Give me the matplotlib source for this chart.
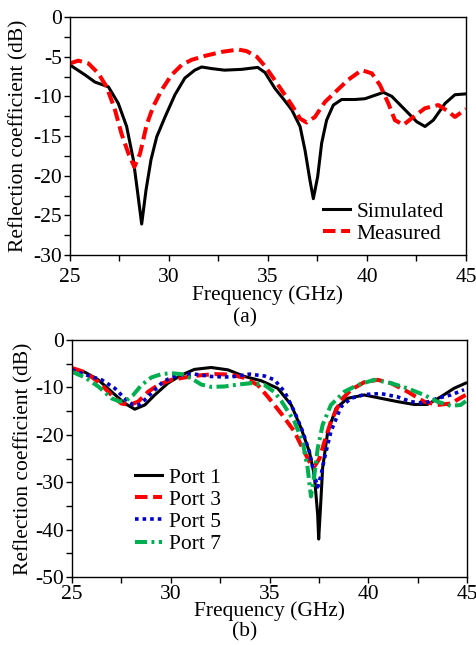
import numpy as np
import matplotlib
matplotlib.use('Agg')
import matplotlib.pyplot as plt
from matplotlib.ticker import MultipleLocator

plt.rcParams['font.family'] = 'Liberation Serif'
plt.rcParams['font.size'] = 15.5
plt.rcParams['axes.unicode_minus'] = False

# (a) simulated vs measured
fa_sim = [25, 25.76, 26.26, 26.94, 27.44, 27.86, 28.2, 28.42, 28.62, 28.84, 29.09, 29.38,
          29.8, 30.3, 30.8, 31.3, 31.65, 32.15, 32.8, 33.67, 34.48, 34.85, 35.35, 35.8,
          36.2, 36.62, 36.87, 37.12, 37.29, 37.51, 37.71, 37.96, 38.3, 38.72, 39.39,
          39.9, 40.83, 41.25, 41.92, 42.51, 42.93, 43.35, 43.94, 44.44, 44.95]
s_sim = [-6.05, -7.3, -8.2, -8.8, -10.9, -13.8, -18.0, -22.2, -26.1, -21.8, -18.0, -15.1,
         -12.6, -9.8, -7.7, -6.7, -6.3, -6.5, -6.7, -6.6, -6.35, -7.0, -9.0, -10.4,
         -11.7, -13.8, -16.8, -20.6, -22.9, -20.1, -15.9, -13.0, -11.1, -10.4, -10.4,
         -10.3, -9.5, -10.0, -11.7, -13.2, -13.8, -13.0, -10.9, -9.8, -9.7]

fa_meas = [25, 25.42, 25.93, 26.43, 26.85, 27.27, 27.6, 27.95, 28.25, 28.54, 28.87, 29.2,
           29.63, 30.13, 30.64, 31.14, 31.82, 32.66, 33.5, 33.92, 34.43, 34.85, 35.52,
           36.2, 36.62, 36.95, 37.37, 37.88, 38.38, 39.06, 39.73, 40.24, 40.66, 41.08,
           41.41, 41.84, 42.34, 42.93, 43.6, 44.1, 44.44, 45]
s_meas = [-5.85, -5.5, -5.85, -7.1, -8.8, -11.7, -14.7, -17.2, -18.9, -17.2, -13.6, -11.3,
          -9.2, -7.3, -6.05, -5.4, -4.9, -4.4, -4.1, -4.3, -5.0, -6.2, -8.6, -11.1,
          -12.8, -13.3, -12.6, -10.7, -9.5, -7.9, -6.7, -7.1, -8.6, -10.9, -13.0, -13.6,
          -12.6, -11.5, -11.1, -11.9, -12.6, -11.6]

# (b) ports
f_p1 = [25, 25.66, 26.33, 27, 27.68, 28.18, 28.69, 29.19, 29.86, 30.54, 31.2, 32.05, 32.9,
        33.74, 34.58, 35.42, 36.1, 36.6, 37.02, 37.27, 37.44, 37.49, 37.58, 37.69, 37.95,
        38.37, 38.96, 39.8, 40.64, 41.48, 42.32, 42.99, 43.67, 44.34, 44.93]
s_p1 = [-6.0, -6.8, -8.4, -10.9, -13.4, -14.6, -13.7, -11.6, -9.1, -7.4, -6.2, -5.8, -6.3,
        -7.7, -8.6, -10.2, -13.7, -18.6, -23.6, -28.5, -36.9, -42.0, -35.5, -27.0, -19.3,
        -14.4, -12.3, -11.6, -12.3, -13.0, -13.6, -13.6, -12.0, -10.2, -9.1]

f_p3 = [25, 25.66, 26.33, 27, 27.5, 27.93, 28.35, 28.86, 29.36, 30.03, 30.71, 31.38, 32.22,
        33.06, 33.74, 34.41, 34.92, 35.59, 36.26, 36.68, 37.02, 37.27, 37.53, 37.78, 38.11,
        38.62, 39.13, 39.8, 40.47, 41.15, 41.99, 42.83, 43.5, 44.18, 44.93]
s_p3 = [-5.9, -6.8, -8.8, -11.6, -13.4, -13.7, -13.0, -10.9, -9.5, -8.4, -7.9, -7.5, -7.2,
        -7.3, -8.0, -9.5, -12.0, -15.5, -19.3, -22.9, -25.7, -26.7, -25.0, -21.5, -17.2,
        -12.7, -10.5, -8.9, -8.4, -9.1, -10.9, -13.0, -13.7, -13.4, -11.6]

f_p5 = [25, 25.74, 26.5, 27.17, 27.76, 28.1, 28.43, 28.77, 29.1, 29.61, 30.03, 30.71, 31.2,
        32.05, 32.81, 33.23, 33.99, 34.75, 35.25, 35.76, 36.26, 36.68, 37.02, 37.27, 37.44,
        37.61, 37.78, 38.11, 38.62, 39.13, 39.8, 40.64, 41.48, 42.16, 42.83, 43.5, 44.18,
        44.85]
s_p5 = [-6.3, -7.4, -8.4, -10.2, -12.7, -13.7, -13.6, -12.3, -10.9, -8.8, -7.9, -7.2, -7.2,
        -7.7, -7.8, -7.7, -7.2, -7.6, -8.4, -10.9, -15.1, -19.3, -23.6, -28.5, -31.0,
        -28.5, -25.0, -19.3, -14.1, -12.3, -11.5, -11.3, -12.0, -13.0, -13.4, -12.3, -11.6,
        -10.5]

f_p7 = [25, 25.66, 26.33, 27, 27.42, 27.76, 28.1, 28.52, 29.02, 29.53, 30.03, 30.54, 31.04,
        31.55, 32.05, 32.73, 33.4, 34.08, 34.75, 35.25, 35.59, 36.26, 36.68, 36.93, 37.1,
        37.27, 37.44, 37.69, 38.11, 38.79, 39.46, 40.3, 41.15, 41.99, 42.83, 43.5, 44.18,
        44.68, 45]
s_p7 = [-6.7, -7.9, -9.8, -12.3, -13.0, -12.7, -11.6, -9.5, -7.9, -7.2, -7.0, -7.2, -8.1,
        -9.4, -9.9, -9.8, -9.4, -9.1, -9.5, -11.0, -12.8, -17.2, -21.5, -27.0, -33.0,
        -28.5, -22.9, -17.9, -13.7, -10.9, -9.5, -8.4, -9.1, -10.2, -11.6, -13.0, -13.9,
        -13.7, -12.7]

W, H = 477, 645
fig = plt.figure(figsize=(W/100, H/100), dpi=100)


def style(ax, ymin, ystep, pad, xpad, ylx):
    ax.set_xlim(25, 45)
    ax.set_ylim(ymin, 0)
    ax.xaxis.set_major_locator(MultipleLocator(5))
    ax.xaxis.set_minor_locator(MultipleLocator(2.5))
    ax.yaxis.set_major_locator(MultipleLocator(ystep))
    ax.yaxis.set_minor_locator(MultipleLocator(ystep/2))
    ax.tick_params(which='both', direction='out', top=False, right=False, width=1,
                   length=4)
    ax.tick_params(axis='x', which='major', pad=pad)
    ax.tick_params(axis='y', which='major', pad=2)
    ax.set_xlabel('Frequency (GHz)', labelpad=xpad)
    ax.set_ylabel('Reflection coefficient (dB)')
    ax.yaxis.set_label_coords(ylx, 0.5)
    for s in ax.spines.values():
        s.set_linewidth(1)


leg_kw = dict(frameon=False, handlelength=1.25, handletextpad=0.3, labelspacing=0.1,
              borderpad=0, borderaxespad=0)

ax1 = fig.add_axes([70/W, 1 - 255/H, 396/W, 238/H])
ax1.plot(fa_sim, s_sim, color='black', lw=2.2, label='Simulated')
ax1.plot(fa_meas, s_meas, color='red', lw=2.9, dashes=(3.1, 1.4), label='Measured')
style(ax1, -30, 5, 5, -1, -0.106)
ax1.legend(loc='upper left', bbox_to_anchor=(0.639, 0.225), **leg_kw)
fig.text(245/W, 1 - 318/H, '(a)', ha='center', va='center')

ax2 = fig.add_axes([72/W, 1 - 577/H, 395/W, 237/H])
ax2.plot(f_p1, s_p1, color='black', lw=2.2, label='Port 1')
ax2.plot(f_p3, s_p3, color='red', lw=2.9, dashes=(3.1, 1.4), label='Port 3')
ax2.plot(f_p5, s_p5, color='#0000CC', lw=2.6, dashes=(1, 1.1), label='Port 5')
ax2.plot(f_p7, s_p7, color='#00B050', lw=2.9, dashes=(3, 1.1, 0.7, 1.1), label='Port 7')
style(ax2, -50, 10, 2, -2, -0.098)
ax2.legend(loc='upper left', bbox_to_anchor=(0.16, 0.462), **leg_kw)
fig.text(245/W, 1 - 632/H, '(b)', ha='center', va='center')

fig.savefig('out.png', dpi=100)
